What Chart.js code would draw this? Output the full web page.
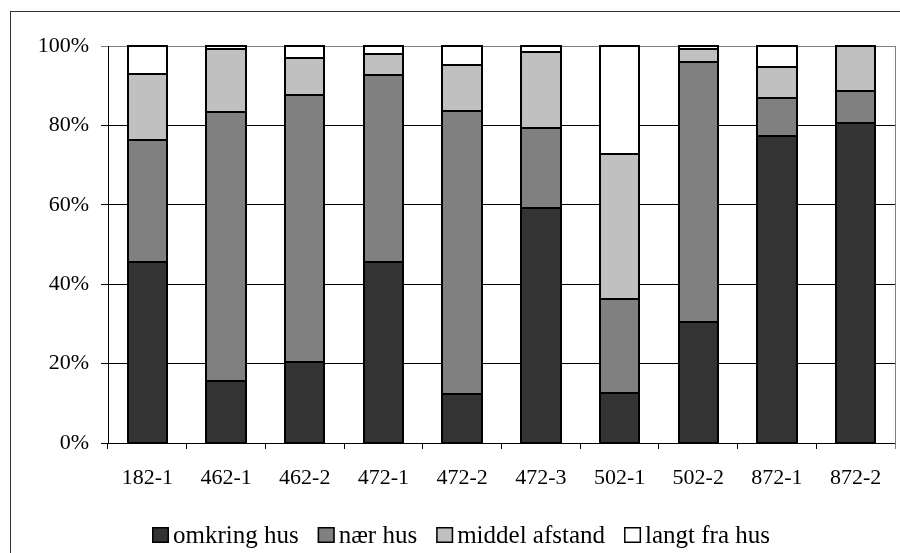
<!DOCTYPE html>
<html>
<head>
<meta charset="utf-8">
<script src="https://cdn.jsdelivr.net/npm/chart.js@4.4.1/dist/chart.umd.min.js"></script>
<style>
  html, body { margin: 0; padding: 0; background: #fff; }
  #wrap { width: 900px; height: 553px; position: relative; }
</style>
</head>
<body>
<div id="wrap"><canvas id="c" width="900" height="553"></canvas></div>
<script>
// Sites (categories) and the share of observations in each distance class (%)
const categories = ['182-1', '462-1', '462-2', '472-1', '472-2', '472-3', '502-1', '502-2', '872-1', '872-2'];
const omkringHus = [45.5, 15.7, 20.3, 45.6, 12.3, 59.1, 12.7, 30.4, 77.4, 80.7];
const naerHus = [30.8, 67.8, 67.3, 47.1, 71.3, 20.3, 23.6, 65.5, 9.4, 8.0];
const middelAfstand = [16.6, 15.7, 9.4, 5.4, 11.6, 19.1, 36.4, 3.3, 8.0, 11.3];
const langtFraHus = [7.1, 0.8, 3.0, 1.9, 4.8, 1.5, 27.3, 0.8, 5.2, 0.0];
const seriesNames = ['omkring hus', 'nær hus', 'middel afstand', 'langt fra hus'];
const yTicks = [0, 20, 40, 60, 80, 100];

const FONT = '"Liberation Serif", "Times New Roman", serif';
const fills = ['#333333', '#808080', '#c0c0c0', '#ffffff'];

// Outer frame of the chart object
const framePlugin = {
  id: 'frame',
  beforeDraw(chart) {
    const ctx = chart.ctx;
    ctx.save();
    ctx.fillStyle = '#fff';
    ctx.fillRect(0, 0, chart.width, chart.height);
    ctx.strokeStyle = '#333';
    ctx.lineWidth = 1;
    ctx.strokeRect(10.5, 11.5, 1200, 1200);
    ctx.restore();
  },
  afterDatasetsDraw(chart) {
    const a = chart.chartArea, ctx = chart.ctx;
    ctx.save();
    // crisp black outline around every stacked segment, taken from the bar elements
    ctx.strokeStyle = '#000';
    ctx.lineWidth = 2;
    chart.data.datasets.forEach((ds, di) => {
      chart.getDatasetMeta(di).data.forEach(bar => {
        const p = bar.getProps(['x', 'y', 'base', 'width'], true);
        const l = Math.round(p.x - p.width / 2), r = Math.round(p.x + p.width / 2);
        const t = Math.round(Math.min(p.y, p.base)), b = Math.round(Math.max(p.y, p.base));
        if (b - t < 1) return;
        ctx.strokeRect(l, t, r - l, b - t);
      });
    });
    // grey plot-area edge on the right
    ctx.strokeStyle = '#808080';
    ctx.lineWidth = 1;
    ctx.beginPath();
    ctx.moveTo(Math.round(a.right) + 0.5, a.top);
    ctx.lineTo(Math.round(a.right) + 0.5, a.bottom + 6);
    ctx.stroke();
    ctx.restore();
  }
};

// Single-row legend below the axis
const legendRow = {
  id: 'legendRow',
  afterDraw(chart) {
    const ctx = chart.ctx;
    const fontPx = 25, boxW = 17, boxH = 16, gap = 4, spacing = 19;
    const baseline = 543;
    ctx.save();
    ctx.font = fontPx + 'px ' + FONT;
    const items = chart.data.datasets.map(ds => ({
      text: ds.label, fill: ds.backgroundColor,
      w: ctx.measureText(ds.label).width
    }));
    const total = items.reduce((s, it) => s + boxW + gap + it.w, 0) + spacing * (items.length - 1);
    let x = Math.round(461.5 - total / 2);
    items.forEach(it => {
      ctx.fillStyle = it.fill;
      ctx.fillRect(x, baseline - boxH, boxW, boxH);
      ctx.strokeStyle = '#000';
      ctx.lineWidth = 1.5;
      ctx.strokeRect(x + 0.75, baseline - boxH + 0.75, boxW - 1.5, boxH - 1.5);
      ctx.fillStyle = '#000';
      ctx.textBaseline = 'alphabetic';
      ctx.textAlign = 'left';
      ctx.fillText(it.text, x + boxW + gap, baseline);
      x += boxW + gap + it.w + spacing;
    });
    ctx.restore();
  }
};

const seriesValues = [omkringHus, naerHus, middelAfstand, langtFraHus];

new Chart(document.getElementById('c'), {
  type: 'bar',
  data: {
    labels: categories,
    datasets: seriesNames.map((name, i) => ({
      label: name,
      data: seriesValues[i],
      backgroundColor: fills[i],
      borderWidth: 0,
      inflateAmount: 0,
      barPercentage: 0.5,
      categoryPercentage: 1.0
    }))
  },
  options: {
    responsive: false,
    animation: false,
    devicePixelRatio: 1,
    layout: { padding: { left: 10, top: 46, right: 5, bottom: 0 } },
    plugins: { legend: { display: false }, tooltip: { enabled: false } },
    scales: {
      x: {
        stacked: true,
        afterFit(s) { s.height = 110; },
        border: { display: true, color: '#000', width: 1 },
        grid: { offset: true, drawOnChartArea: false, drawTicks: true, tickLength: 6, color: '#000' },
        ticks: { color: '#000', padding: 16, font: { family: FONT, size: 22 }, maxRotation: 0 }
      },
      y: {
        stacked: true,
        min: 0, max: 100,
        afterFit(s) { s.width = 98; },
        afterBuildTicks(s) { s.ticks = yTicks.map(v => ({ value: v })); },
        border: { display: true, color: '#000', width: 1 },
        grid: {
          color: ctx => (ctx.tick && ctx.tick.value === 100) ? '#808080' : '#000',
          tickLength: 7, drawTicks: true
        },
        ticks: {
          color: '#000', padding: 12, font: { family: FONT, size: 22 },
          callback: v => v + '%'
        }
      }
    }
  },
  plugins: [framePlugin, legendRow]
});
</script>
</body>
</html>
